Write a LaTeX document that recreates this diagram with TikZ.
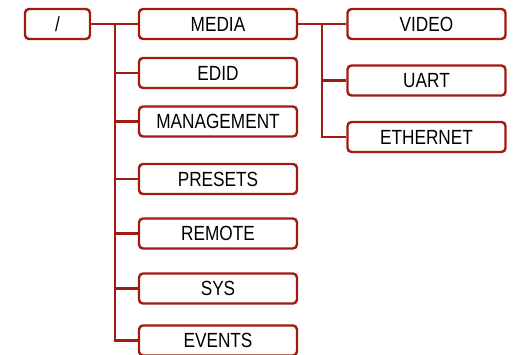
\documentclass[tikz,border=0pt]{standalone}
\usepackage{fontspec}
\newfontfamily\treefont{Liberation Sans}[FakeStretch=0.84]
\usetikzlibrary{positioning}
\definecolor{lwred}{RGB}{160,28,18}
\begin{document}
\begin{tikzpicture}[x=1pt,y=1pt,
  every node/.style={font=\treefont\fontsize{20.5}{22}\selectfont},
  br/.style={draw=lwred,line width=2.4pt,rounded corners=4pt,align=center,inner sep=0pt,minimum width=158pt,minimum height=30pt},
  rt/.style={br,minimum width=65pt},
  ln/.style={draw=lwred,line width=2.4pt}]
\useasboundingbox (0,0) rectangle (522,-355);
\node[rt] (root) at (57.5,-24) {/};
\node[br] (media) at (218,-24) {MEDIA};
\node[br] (edid) at (218,-73) {EDID};
\node[br] (mgmt) at (218,-121.5) {MANAGEMENT};
\node[br] (presets) at (218,-179) {PRESETS};
\node[br] (remote) at (218,-233.5) {REMOTE};
\node[br] (sys) at (218,-288.5) {SYS};
\node[br] (events) at (218,-340.5) {EVENTS};
\node[br] (video) at (426.5,-24) {VIDEO};
\node[br] (uart) at (426.5,-80.5) {UART};
\node[br] (eth) at (426.5,-137) {ETHERNET};
\coordinate (j1) at (115,-24);
\coordinate (j2) at (322,-24);
% first level
\draw[ln] (root) -- (media);
\draw[ln] (j1) |- (edid.west);
\draw[ln] (j1) |- (mgmt.west);
\draw[ln] (j1) |- (presets.west);
\draw[ln] (j1) |- (remote.west);
\draw[ln] (j1) |- (sys.west);
\draw[ln] (j1) |- (events.west);
% media branch
\draw[ln] (media) -- (video);
\draw[ln] (j2) |- (uart.west);
\draw[ln] (j2) |- (eth.west);
\end{tikzpicture}
\end{document}
